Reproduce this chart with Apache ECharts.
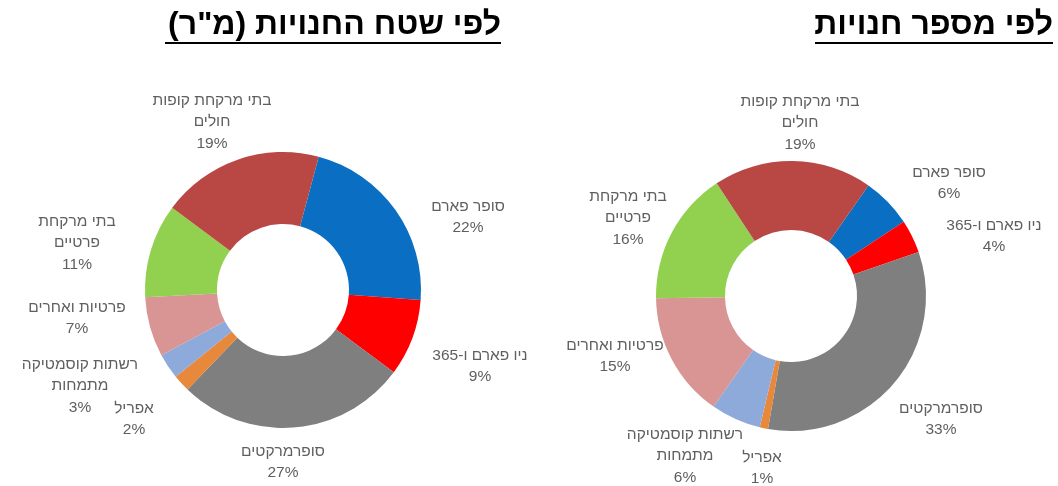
<!DOCTYPE html>
<html>
<head>
<meta charset="utf-8">
<style>
  html, body { margin: 0; padding: 0; background: #fff; }
  #main { width: 1058px; height: 486px; }
</style>
<script src="https://cdn.jsdelivr.net/npm/echarts@6/dist/echarts.min.js"></script>
</head>
<body>
<div id="main" dir="rtl"></div>
<script>
// קטגוריות (same order for both pies, clockwise)
var categories = [
  "סופר פארם",
  "ניו פארם ו-365",
  "סופרמרקטים",
  "אפריל",
  "רשתות קוסמטיקה\nמתמחות",
  "פרטיות ואחרים",
  "בתי מרקחת\nפרטיים",
  "בתי מרקחת קופות\nחולים"
];
var colors = ["#0a6fc2", "#fe0000", "#7f7f7f", "#e8883a", "#8eaadb", "#d99594", "#92d050", "#b94845"];

// לפי שטח החנויות (מ"ר) - %
var areaShare = [22, 9, 27, 2, 3, 7, 11, 19];
// לפי מספר חנויות - %
var countShare = [6, 4, 33, 1, 6, 15, 16, 19];

var titles = ["לפי שטח החנויות (מ\"ר)", "לפי מספר חנויות"];

// where the label blocks sit (centre of each text block)
var areaLabelAt = [[468, 217], [480, 366], [283, 462], [134, 419], [80, 386], [77, 318], [77, 243], [212, 122]];
var countLabelAt = [[949, 183], [994, 236], [941, 419], [762, 468], [685, 456], [615, 356], [628, 218], [800, 123]];

var font = "Arial, 'Liberation Sans', sans-serif";

function toData(values) {
  return values.map(function (v, i) {
    return { name: categories[i], value: v, itemStyle: { color: colors[i] } };
  });
}

function labelFormatter(p) {
  var lines = p.name.split("\n");
  lines.push(p.value + "%");
  return lines.map(function (l) { return "{c|" + l + "}"; }).join("\n");
}

function pieSeries(values, center, radius, startAngle, labelAt) {
  return {
    type: "pie",
    center: center,
    radius: radius,
    startAngle: startAngle,
    clockwise: true,
    avoidLabelOverlap: false,
    silent: true,
    label: {
      show: true,
      position: "outside",
      formatter: labelFormatter,
      rich: {
        c: { align: "center", fontFamily: font, fontSize: 15.5, color: "#5f5f5f", lineHeight: 21.5 }
      }
    },
    labelLine: { show: false },
    labelLayout: function (params) {
      var p = labelAt[params.dataIndex];
      return { x: p[0], y: p[1], align: "center", verticalAlign: "middle" };
    },
    itemStyle: { borderWidth: 0 },
    data: toData(values)
  };
}

var myChart = echarts.init(document.getElementById("main"));
myChart.setOption({
  animation: false,
  backgroundColor: "#fff",
  graphic: [
    { type: "text", right: 1058 - 501, top: 9,
      style: { text: titles[0], font: "bold 32px " + font, fill: "#000" } },
    { type: "rect", shape: { x: 165, y: 42, width: 336, height: 2 }, style: { fill: "#000" } },
    { type: "text", right: 5, top: 9,
      style: { text: titles[1], font: "bold 32px " + font, fill: "#000" } },
    { type: "rect", shape: { x: 815, y: 42, width: 238, height: 2 }, style: { fill: "#000" } }
  ],
  series: [
    pieSeries(areaShare, [283, 290], [66, 138], 75, areaLabelAt),
    pieSeries(countShare, [791, 296], [66, 135], 55, countLabelAt)
  ]
});
</script>
</body>
</html>
